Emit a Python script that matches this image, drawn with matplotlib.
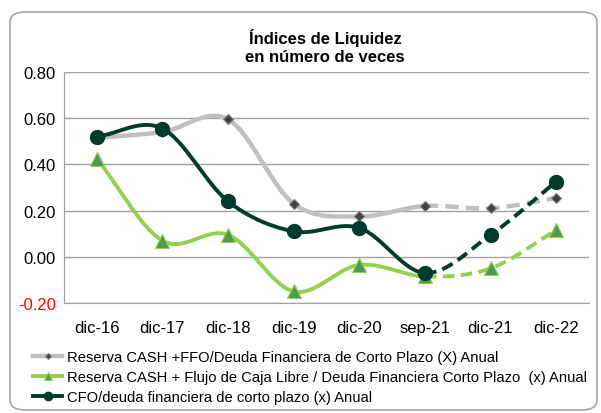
import numpy as np
import matplotlib.pyplot as plt
from matplotlib.patches import FancyBboxPatch

plt.rcParams['font.family'] = ['Liberation Sans', 'DejaVu Sans']

categories = ['dic-16', 'dic-17', 'dic-18', 'dic-19', 'dic-20', 'sep-21', 'dic-21', 'dic-22']
reserva_ffo = [0.515, 0.54, 0.595, 0.23, 0.175, 0.22, 0.21, 0.255]
reserva_fcl = [0.425, 0.07, 0.095, -0.15, -0.035, -0.085, -0.05, 0.115]
cfo_deuda = [0.52, 0.555, 0.24, 0.11, 0.125, -0.07, 0.095, 0.325]
labels = ['Reserva CASH +FFO/Deuda Financiera de Corto Plazo (X) Anual',
          'Reserva CASH + Flujo de Caja Libre / Deuda Financiera Corto Plazo  (x) Anual',
          'CFO/deuda financiera de corto plazo (x) Anual']
split = 5  # dashed from sep-21 on


def smooth(x, y, n=30):
    # catmull-rom like excel smoothed lines
    x = np.asarray(x, float)
    y = np.asarray(y, float)
    px = np.concatenate([[2 * x[0] - x[1]], x, [2 * x[-1] - x[-2]]])
    py = np.concatenate([[2 * y[0] - y[1]], y, [2 * y[-1] - y[-2]]])
    segs = []
    t = np.linspace(0, 1, n)
    for i in range(1, len(px) - 2):
        def cr(p):
            p0, p1, p2, p3 = p[i - 1], p[i], p[i + 1], p[i + 2]
            return 0.5 * ((2 * p1) + (-p0 + p2) * t + (2 * p0 - 5 * p1 + 4 * p2 - p3) * t ** 2
                          + (-p0 + 3 * p1 - 3 * p2 + p3) * t ** 3)
        segs.append((cr(px), cr(py)))
    return segs


fig = plt.figure(figsize=(6.01, 4.14), dpi=100)
fig.patches.append(FancyBboxPatch((10 / 601, 3 / 414), 587 / 601, 398 / 414,
                                  boxstyle='round,pad=0,rounding_size=0.025',
                                  transform=fig.transFigure, facecolor='white',
                                  edgecolor='#a6a6a6', linewidth=1.2, zorder=-10))
ax = fig.add_axes([64 / 601, 1 - 304 / 414, 525 / 601, 231 / 414])
ax.set_facecolor('none')

x = np.arange(len(categories))
series = [
    (reserva_ffo, '#c0c0c0', dict(marker='D', ms=5, mfc='#404040', mec='#808080', mew=0.8), 3.2),
    (reserva_fcl, '#92d050', dict(marker='^', ms=10, mfc='#4e9a4e', mec='#92d050', mew=0.8), 2.8),
    (cfo_deuda, '#003b2b', dict(marker='o', ms=10, mfc='#003b2b', mec='#003b2b'), 2.8),
]
handles = []
for vals, col, mk, lw in series:
    segs = smooth(x, vals)
    sx = np.concatenate([s[0] for s in segs[:split]])
    sy = np.concatenate([s[1] for s in segs[:split]])
    dx = np.concatenate([s[0] for s in segs[split:]])
    dy = np.concatenate([s[1] for s in segs[split:]])
    ax.plot(sx, sy, color=col, lw=lw, solid_capstyle='round', zorder=2)
    ax.plot(dx, dy, color=col, lw=lw, ls=(0, (3, 1.6)), zorder=2)
    ax.plot(x, vals, ls='none', zorder=3, **mk)
    h, = ax.plot([], [], color=col, lw=lw, **dict(mk, ms=mk['ms'] * 0.6))
    handles.append(h)

ax.set_xlim(-0.5, len(categories) - 0.5)
ax.set_ylim(-0.2, 0.8)
ax.set_yticks([-0.2, 0.0, 0.2, 0.4, 0.6, 0.8])
ax.set_yticklabels(['-0.20', '0.00', '0.20', '0.40', '0.60', '0.80'], fontsize=12)
ax.get_yticklabels()[0].set_color('red')
ax.set_xticks(x)
ax.set_xticklabels(categories, fontsize=12)
ax.tick_params(length=0, pad=6)
ax.tick_params(axis='x', pad=12)
ax.grid(axis='y', color='#a0a0a0', lw=1)
for s in ['top', 'right']:
    ax.spines[s].set_visible(False)
for s in ['left', 'bottom']:
    ax.spines[s].set_color('#a0a0a0')

fig.text(325 / 601, 1 - 47 / 414, 'Índices de Liquidez\nen número de veces',
         ha='center', va='center', fontsize=12, fontweight='bold', linespacing=1.25)

fig.legend(handles, labels, loc='upper left', bbox_to_anchor=(33 / 601, 1 - 351 / 414),
           frameon=False, fontsize=10.6, handlelength=2.0, handletextpad=0.3,
           labelspacing=0.42, borderpad=0, borderaxespad=0)

fig.savefig('out.png', dpi=100)
